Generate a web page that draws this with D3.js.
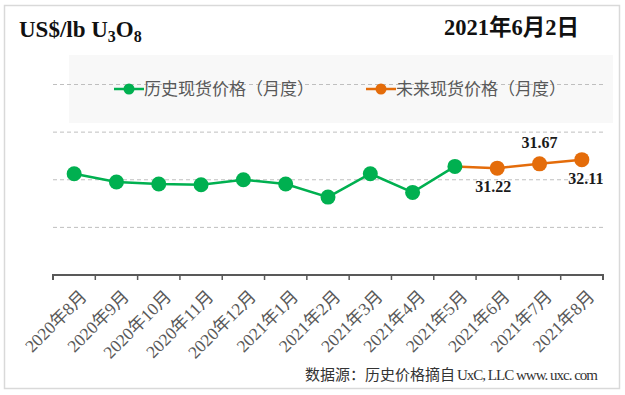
<!DOCTYPE html>
<html>
<head>
<meta charset="utf-8">
<script src="https://cdn.jsdelivr.net/npm/d3@7"></script>
<style>
  body { margin: 0; background: #fff; }
  svg { display: block; }
</style>
</head>
<body>
<div id="chart"></div>
<script>
const months = ["2020年8月", "2020年9月", "2020年10月", "2020年11月", "2020年12月",
  "2021年1月", "2021年2月", "2021年3月", "2021年4月", "2021年5月",
  "2021年6月", "2021年7月", "2021年8月"];
// historical spot price (monthly), Aug 2020 - May 2021
const histValues = [30.63, 29.76, 29.55, 29.47, 30.0, 29.55, 28.18, 30.63, 28.67, 31.40];
// future spot price (monthly), line starts from the May 2021 value
const futMonths = ["2021年5月", "2021年6月", "2021年7月", "2021年8月"];
const futValues = [31.40, 31.22, 31.67, 32.11];
const futLabels = ["", "31.22", "31.67", "32.11"];
const yTicks = [25, 30, 35, 40];

const green = "#00b050", orange = "#e46c0a", grey = "#595959";
const serif = "'Liberation Serif', 'Times New Roman', 'Noto Sans CJK SC', serif";
const cjk = "'Noto Sans CJK SC', sans-serif";

const width = 625, height = 395;
const svg = d3.select("#chart").append("svg")
  .attr("width", width).attr("height", height);

// outer frame
svg.append("rect")
  .attr("x", 4.5).attr("y", 5.5).attr("width", 615).attr("height", 383)
  .attr("fill", "#fff").attr("stroke", "#d9d9d9").attr("stroke-width", 1.5);

const x = d3.scaleBand().domain(months).range([53, 603]);
const y = d3.scaleLinear().domain([20, 40]).range([275, 84.5]);
const cx = d => x(d) + x.bandwidth() / 2;

// legend background
svg.append("rect")
  .attr("x", 69).attr("y", 55).attr("width", 544).attr("height", 68)
  .attr("fill", "#f8f8f8");

// gridlines
svg.append("g").selectAll("line")
  .data(yTicks)
  .join("line")
  .attr("x1", 53).attr("x2", 603)
  .attr("y1", d => y(d)).attr("y2", d => y(d))
  .attr("stroke", "#bfbfbf")
  .attr("stroke-dasharray", "4,3");

// x axis
const xAxis = svg.append("g")
  .attr("transform", `translate(0,${y(20)})`)
  .call(d3.axisBottom(x).tickSize(5).tickFormat(""));
xAxis.select(".domain").attr("stroke", grey).attr("stroke-width", 2)
  .attr("d", "M53,5V0H603V5");
xAxis.selectAll(".tick line").remove();
// Excel style ticks sit between categories
xAxis.selectAll("line.sep")
  .data(d3.range(months.length + 1))
  .join("line")
  .attr("x1", i => 53 + i * x.step()).attr("x2", i => 53 + i * x.step())
  .attr("y1", 0).attr("y2", 5)
  .attr("stroke", grey).attr("stroke-width", 1.5);

svg.append("g").selectAll("text")
  .data(months)
  .join("text")
  .attr("transform", d => `translate(${cx(d) + 5},${y(20) + 14}) rotate(-45)`)
  .attr("text-anchor", "end")
  .attr("dy", "0.7em")
  .attr("font-family", serif)
  .attr("font-size", 17.5)
  .attr("fill", grey)
  .text(d => d);

// lines
const line = d3.line().x(d => cx(d[0])).y(d => y(d[1]));
const futData = futMonths.map((m, i) => [m, futValues[i]]);
const histData = histValues.map((v, i) => [months[i], v]);

svg.append("path").datum(futData)
  .attr("d", line).attr("fill", "none")
  .attr("stroke", orange).attr("stroke-width", 2.5);
svg.append("path").datum(histData)
  .attr("d", line).attr("fill", "none")
  .attr("stroke", green).attr("stroke-width", 2.5);

svg.append("g").selectAll("circle")
  .data(futData.slice(1))
  .join("circle")
  .attr("cx", d => cx(d[0])).attr("cy", d => y(d[1])).attr("r", 7.5)
  .attr("fill", orange);
svg.append("g").selectAll("circle")
  .data(histData)
  .join("circle")
  .attr("cx", d => cx(d[0])).attr("cy", d => y(d[1])).attr("r", 7.5)
  .attr("fill", green);

// data labels
svg.append("g").selectAll("text")
  .data(futData.map((d, i) => ({m: d[0], v: d[1], t: futLabels[i], i})).filter(d => d.t))
  .join("text")
  .attr("x", d => cx(d.m) + (d.i === 1 ? -4 : d.i === 3 ? 4 : 0))
  .attr("y", d => y(d.v) + (d.i === 2 ? -16 : 24))
  .attr("text-anchor", "middle")
  .attr("font-family", serif)
  .attr("font-weight", "bold")
  .attr("font-size", 16)
  .attr("fill", "#1a1a1a")
  .text(d => d.t);

// legend
const legendItems = [
  {label: "历史现货价格（月度）", color: green, x: 114},
  {label: "未来现货价格（月度）", color: orange, x: 366}
];
const lg = svg.append("g").selectAll("g")
  .data(legendItems)
  .join("g")
  .attr("transform", d => `translate(${d.x},89)`);
lg.append("line").attr("x1", 0).attr("x2", 30)
  .attr("stroke", d => d.color).attr("stroke-width", 2.5);
lg.append("circle").attr("cx", 15).attr("r", 5.5).attr("fill", d => d.color);
lg.append("text")
  .attr("x", 30).attr("dy", "0.36em")
  .attr("font-family", cjk)
  .attr("font-size", 17)
  .attr("fill", grey)
  .text(d => d.label);

// title
const title = svg.append("text")
  .attr("x", 19).attr("y", 37)
  .attr("font-family", serif)
  .attr("font-weight", "bold")
  .attr("font-size", 23)
  .attr("fill", "#111");
title.append("tspan").text("US$/lb U");
title.append("tspan").attr("font-size", 16).attr("dy", 5).text("3");
title.append("tspan").attr("dy", -5).text("O");
title.append("tspan").attr("font-size", 16).attr("dy", 5).text("8");

svg.append("text")
  .attr("x", 579).attr("y", 35)
  .attr("text-anchor", "end")
  .attr("font-family", serif)
  .attr("font-weight", "bold")
  .attr("font-size", 22.5)
  .attr("fill", "#111")
  .text("2021年6月2日");

// source note
const note = svg.append("text")
  .attr("x", 305).attr("y", 380)
  .attr("font-family", serif)
  .attr("font-size", 15)
  .attr("fill", "#333");
note.append("tspan").text("数据源：历史价格摘自");
note.append("tspan").attr("x", 457).attr("textLength", 141)
  .attr("lengthAdjust", "spacing")
  .text("UxC, LLC   www. uxc. com");
</script>
</body>
</html>
